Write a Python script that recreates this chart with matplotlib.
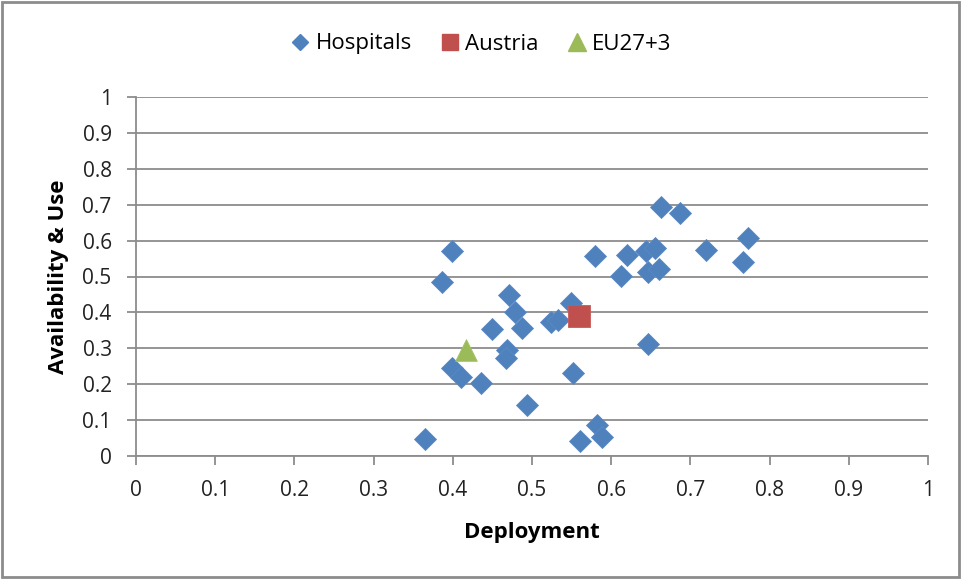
import matplotlib
matplotlib.use("Agg")
import matplotlib.pyplot as plt
from matplotlib.patches import Rectangle
from matplotlib.lines import Line2D

plt.rcParams['font.family'] = ['Open Sans', 'DejaVu Sans']

hosp_x = [0.399, 0.386, 0.471, 0.478, 0.449, 0.488, 0.468, 0.467, 0.399, 0.410,
          0.436, 0.494, 0.365, 0.524, 0.533, 0.549, 0.552, 0.561, 0.582, 0.588,
          0.579, 0.663, 0.687, 0.620, 0.613, 0.644, 0.655, 0.647, 0.660, 0.720,
          0.773, 0.767, 0.647]
hosp_y = [0.571, 0.486, 0.448, 0.402, 0.353, 0.356, 0.295, 0.272, 0.244, 0.219,
          0.202, 0.142, 0.046, 0.374, 0.379, 0.425, 0.232, 0.043, 0.086, 0.052,
          0.557, 0.693, 0.678, 0.560, 0.501, 0.571, 0.578, 0.513, 0.520, 0.574,
          0.606, 0.539, 0.311]
austria_x = [0.559]
austria_y = [0.390]
eu_x = [0.417]
eu_y = [0.295]

ticks = [0, 0.1, 0.2, 0.3, 0.4, 0.5, 0.6, 0.7, 0.8, 0.9, 1]
tick_labels = ['0', '0.1', '0.2', '0.3', '0.4', '0.5', '0.6', '0.7', '0.8', '0.9', '1']

W, H = 963, 579
fig = plt.figure(figsize=(W / 100, H / 100), dpi=100)
ax = fig.add_axes([136 / W, 1 - 456 / H, (928 - 136) / W, (456 - 97) / H])

blue = '#4F81BD'
red = '#C0504D'
green = '#9BBB59'
gray = '#8C8C8C'

ax.scatter(hosp_x, hosp_y, marker='D', s=11.2 ** 2, color=blue, edgecolors='#5A8AC6',
           linewidths=0.6, zorder=3, clip_on=False)
ax.scatter(austria_x, austria_y, marker='s', s=15.6 ** 2, color=red, edgecolors='#C65A57',
           linewidths=0.6, zorder=4, clip_on=False)
ax.scatter(eu_x, eu_y, marker='^', s=15.6 ** 2, color=green, edgecolors='#A3C263',
           linewidths=0.6, zorder=4, clip_on=False)

ax.set_xlim(0, 1)
ax.set_ylim(0, 1)
ax.set_xticks(ticks)
ax.set_xticklabels(tick_labels)
ax.set_yticks(ticks)
ax.set_yticklabels(tick_labels)
ax.yaxis.grid(True, color=gray, linewidth=1.3)
ax.set_axisbelow(True)
for s in ['top', 'right']:
    ax.spines[s].set_visible(False)
for s in ['left', 'bottom']:
    ax.spines[s].set_color(gray)
    ax.spines[s].set_linewidth(1.3)
ax.tick_params(axis='both', direction='out', length=6.5, width=1.3, color=gray,
               labelsize=15, labelcolor='#222222')
ax.tick_params(axis='x', pad=11)
ax.tick_params(axis='y', pad=11)

ax.set_xlabel('Deployment', fontsize=16, fontweight='bold', labelpad=15)
ax.set_ylabel('Availability & Use', fontsize=16, fontweight='bold', labelpad=10)

handles = [
    Line2D([], [], marker='D', linestyle='none', color=blue, markersize=8.5),
    Line2D([], [], marker='s', linestyle='none', color=red, markersize=12),
    Line2D([], [], marker='^', linestyle='none', color=green, markersize=13),
]
fig.legend(handles, ['Hospitals', 'Austria', 'EU27+3'], loc='center',
           bbox_to_anchor=(0.5, 1 - 44 / H), ncol=3, frameon=False, fontsize=16,
           handlelength=0.8, handletextpad=0.3, columnspacing=1.3)

fig.patches.append(Rectangle((2 / W, 2 / H), 957 / W, 575 / H, transform=fig.transFigure,
                             fill=False, edgecolor=gray, linewidth=2))

fig.savefig('out.png', dpi=100)
